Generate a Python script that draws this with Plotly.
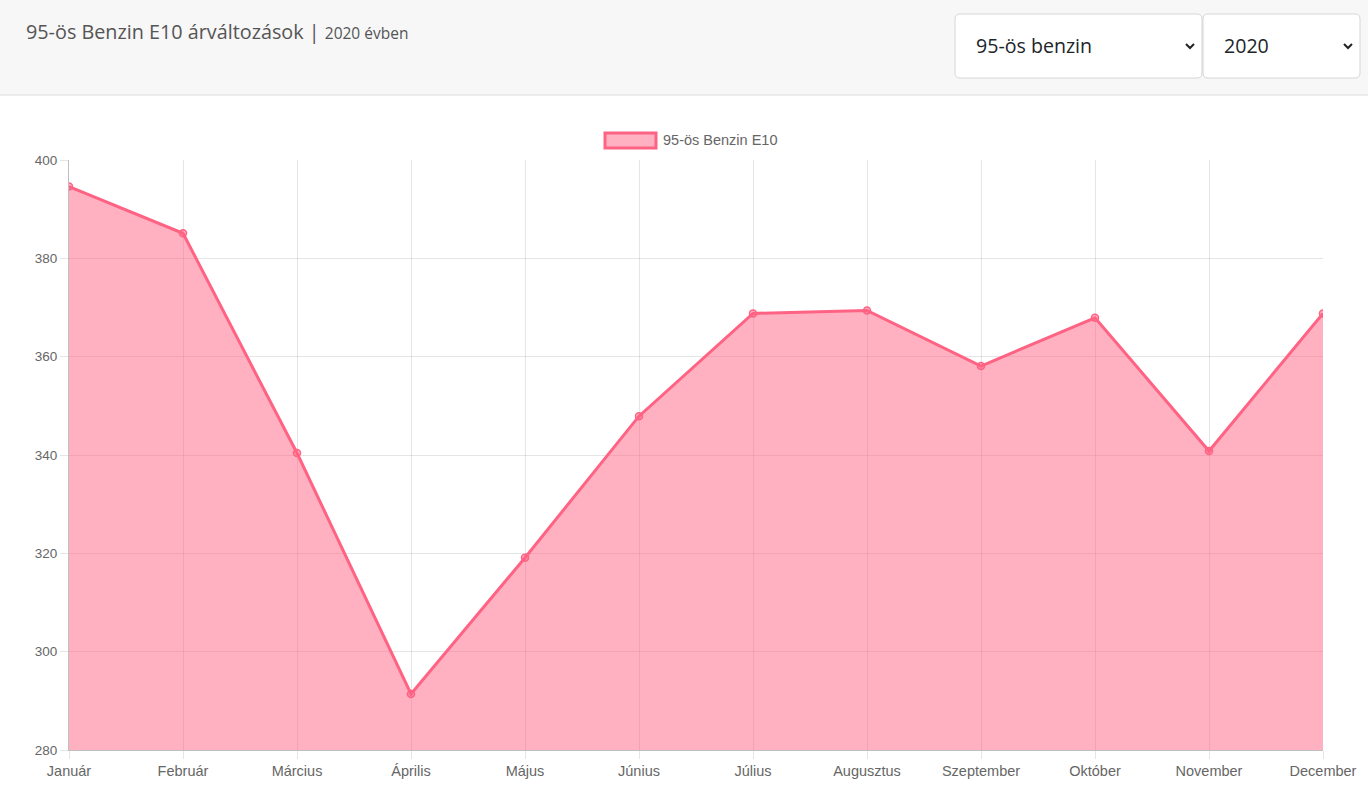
import plotly.graph_objects as go

# ---- data ----
honapok = ["Január", "Február", "Március", "Április", "Május", "Június",
           "Július", "Augusztus", "Szeptember", "Október", "November", "December"]
arak = [394.6, 385.1, 340.4, 291.4, 319.1, 347.9,
        368.8, 369.4, 358.1, 367.9, 340.8, 368.8]
y_ticks = [280, 300, 320, 340, 360, 380, 400]

sorozat_nev = "95-ös Benzin E10"
cim = "95-ös Benzin E10 árváltozások"
ev = "2020"
uzemanyag_opcio = "95-ös benzin"

# ---- geometry (px) of the plot area in the 1368x792 page ----
W, H = 1368, 792
L, R, T, B = 69, 1323, 160, 750
PINK = "rgb(255,99,132)"
PINK_FILL = "rgba(255,99,132,0.5)"


def px_x(p):
    return (p - L) / (R - L)


def px_y(p):
    return (B - p) / (B - T)


def rounded_box(x0, y0, x1, y1, r=5):
    # rounded rectangle path, pixel coords -> paper coords
    pts = [
        ("M", x0 + r, y0), ("L", x1 - r, y0), ("Q", x1, y0, x1, y0 + r),
        ("L", x1, y1 - r), ("Q", x1, y1, x1 - r, y1),
        ("L", x0 + r, y1), ("Q", x0, y1, x0, y1 - r),
        ("L", x0, y0 + r), ("Q", x0, y0, x0 + r, y0),
    ]
    parts = []
    for p in pts:
        cmd, coords = p[0], p[1:]
        xy = []
        for i in range(0, len(coords), 2):
            xy.append(f"{px_x(coords[i])},{px_y(coords[i + 1])}")
        parts.append(cmd + " " + " ".join(xy))
    return " ".join(parts) + " Z"


fig = go.Figure()
fig.add_trace(go.Scatter(
    x=honapok, y=arak, name=sorozat_nev,
    mode="lines+markers", fill="tozeroy", fillcolor=PINK_FILL,
    line=dict(color=PINK, width=3),
    marker=dict(size=7, color=PINK_FILL, line=dict(color=PINK, width=1.5)),
    showlegend=False, hoverinfo="skip",
))

shapes = [
    # header band
    dict(type="rect", xref="paper", yref="paper", layer="below",
         x0=px_x(0), x1=px_x(W), y0=px_y(95), y1=px_y(0),
         fillcolor="#f7f7f7", line_width=0),
    dict(type="line", xref="paper", yref="paper",
         x0=px_x(0), x1=px_x(W), y0=px_y(95), y1=px_y(95),
         line=dict(color="#dcdcdc", width=1)),
    # select boxes
    dict(type="path", xref="paper", yref="paper",
         path=rounded_box(955, 14, 1202, 78),
         fillcolor="white", line=dict(color="#d6d6d6", width=1)),
    dict(type="path", xref="paper", yref="paper",
         path=rounded_box(1203, 14, 1360, 78),
         fillcolor="white", line=dict(color="#d6d6d6", width=1)),
    # legend box
    dict(type="rect", xref="paper", yref="paper",
         x0=px_x(605), x1=px_x(656), y0=px_y(148), y1=px_y(133),
         fillcolor=PINK_FILL, line=dict(color=PINK, width=3)),
]

# dropdown chevrons
for cx in (1190, 1348):
    shapes.append(dict(
        type="path", xref="paper", yref="paper",
        path=f"M {px_x(cx - 4)},{px_y(44)} L {px_x(cx)},{px_y(48)} L {px_x(cx + 4)},{px_y(44)}",
        line=dict(color="#222", width=2)))

annotations = [
    dict(xref="paper", yref="paper", x=px_x(24), y=px_y(31),
         xanchor="left", yanchor="middle", showarrow=False,
         text=f"{cim} | <span style='font-size:15.5px'>{ev} évben</span>",
         font=dict(family="Open Sans", size=19.8, color="#555")),
    dict(xref="paper", yref="paper", x=px_x(974), y=px_y(46),
         xanchor="left", yanchor="middle", showarrow=False,
         text=uzemanyag_opcio,
         font=dict(family="Open Sans", size=19.6, color="#212529")),
    dict(xref="paper", yref="paper", x=px_x(1222), y=px_y(46),
         xanchor="left", yanchor="middle", showarrow=False,
         text=ev,
         font=dict(family="Open Sans", size=19.6, color="#212529")),
    dict(xref="paper", yref="paper", x=px_x(661), y=px_y(140),
         xanchor="left", yanchor="middle", showarrow=False,
         text=sorozat_nev,
         font=dict(family="Liberation Sans, Arial", size=14.5, color="#666")),
]

fig.update_layout(
    width=W, height=H,
    margin=dict(l=L, r=W - R, t=T, b=H - B, pad=0),
    paper_bgcolor="white", plot_bgcolor="white",
    font=dict(family="Liberation Sans, Arial", size=14, color="#666"),
    shapes=shapes, annotations=annotations,
    hovermode=False,
)
fig.update_xaxes(
    type="category", range=[0, len(honapok) - 1],
    showgrid=True, gridcolor="rgba(0,0,0,0.1)", gridwidth=1,
    showline=True, linecolor="rgba(0,0,0,0.25)", linewidth=1,
    ticks="outside", ticklen=8, tickcolor="rgba(0,0,0,0.1)",
    tickfont=dict(size=14.5, color="#666"), zeroline=False,
)
fig.update_yaxes(
    range=[280, 400], tickvals=y_ticks,
    showgrid=True, gridcolor="rgba(0,0,0,0.1)", gridwidth=1,
    showline=True, linecolor="rgba(0,0,0,0.25)", linewidth=1,
    ticks="outside", ticklen=8, tickcolor="rgba(0,0,0,0.1)",
    tickfont=dict(size=13.5, color="#666"), zeroline=False,
)

fig.write_html("out.html", config={"displayModeBar": False},
               post_script="document.body.style.margin='0';")
